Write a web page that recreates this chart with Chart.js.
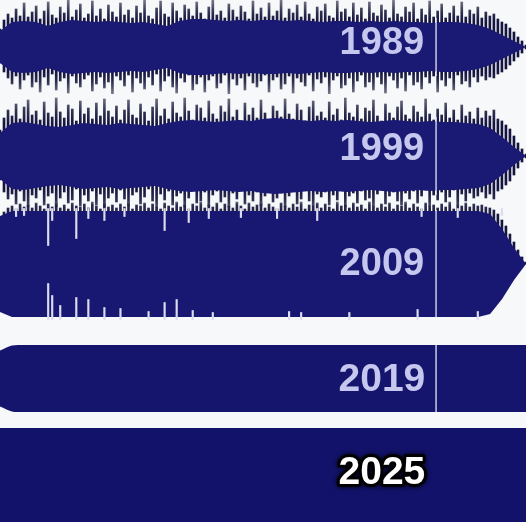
<!DOCTYPE html>
<html lang="en">
<head>
    <meta charset="UTF-8">
    <title>Loudness war</title>
    <script src="https://cdn.jsdelivr.net/npm/chart.js@4"></script>
    <style>
        html, body { margin: 0; padding: 0; background: #f7f8f9; }
        #wrap { position: relative; width: 526px; height: 522px; overflow: hidden; background: #f7f8f9; }
        #wrap canvas { position: absolute; left: 0; }
    </style>
</head>
<body>
    <div id="wrap"></div>
    <script>
        // one waveform per year, amplitudes (px-ish units)
        const years = ['1989', '1999', '2009', '2019', '2025'];

        // body envelope, 45 points along the track
        const body1989 = [16,25,26,25,21,25,27,26,25,26,25,24,25,23,21,26,28,28,27,26,27,26,27,27,26,27,26,25,26,26,25,26,25,26,25,25,24,25,25,24,22,18,12,6,0];
        const body1999 = [23,33,34,32,30,29,31,33,32,31,33,32,31,30,33,35,36,35,34,35,36,35,37,38,37,36,35,36,35,36,35,34,35,36,35,34,35,34,34,33,32,28,19,9,0];
        const body2009 = [48,53,53,53,53,53,53,53,53,53,53,53,53,53,53,53,53,53,53,53,53,53,53,53,53,53,53,53,53,53,53,53,53,53,53,53,53,53,53,53,53,50,35,16,0];
        const body2019 = [28,33,34,34,34,34,34,34,34,34,34,34,34,34,34,34,34,34,34,34,34,34,34,34,34,34,34,34,34,34,34,34,34,34,34,34,34,34,34,34,34,34,34,34,34];
        const body2025 = [47,47,47,47,47,47,47,47,47,47,47,47,47,47,47,47,47,47,47,47,47,47,47,47,47,47,47,47,47,47,47,47,47,47,47,47,47,47,47,47,47,47,47,47,47];

        // peak spikes, 132 samples along the track
        const up1989 = [18,27,33,29,38,31,44,30,35,41, 28,36,45,32,29,40,34,47,30,37, 43,29,33,46,31,38,28,42,35,30,
            44,32,37,29,41,34,47,31,28,39, 46,33,30,44,36,29,42,38,31,45, 34,28,40,47,32,36,29,43,37,30,
            41,35,28,46,33,39,30,44,31,36, 47,29,38,34,42,30,45,33,28,40, 36,43,31,29,46,35,38,30,44,32,
            39,28,45,34,31,42,37,29,47,33, 30,40,35,44,28,38,32,46,30,36, 43,29,34,41,31,45,30,37,33,40,
            29,35,31,33,28,25,23,19,15,10,6,2];
        const down1989 = [16,25,31,37,29,42,33,28,40,35, 45,30,38,27,43,34,31,46,29,36, 40,32,28,44,37,30,41,35,47,29,
            33,39,28,45,31,36,42,30,38,27, 44,34,29,40,46,31,35,28,43,37, 30,45,33,29,41,36,28,47,32,38,
            31,43,29,36,40,34,28,45,33,30, 42,37,29,46,31,35,39,28,44,32, 36,30,47,33,29,41,38,31,45,34,
            28,40,35,43,30,37,46,29,33,41, 31,44,28,38,35,42,30,36,29,45, 33,39,31,43,28,37,34,40,30,35,
            29,33,30,31,27,25,22,18,14,10,6,2];
        const up1999 = [26,38,46,40,52,37,49,56,41,45, 36,54,43,39,58,44,38,51,47,35, 55,42,48,37,53,40,57,45,39,50,
            36,46,56,41,38,52,44,35,49,57, 40,47,37,54,43,39,58,45,36,51, 48,38,55,42,37,50,44,57,39,46,
            35,53,41,48,38,56,43,36,50,45, 39,57,42,37,52,46,35,49,55,40, 44,38,54,41,47,36,58,43,39,51,
            37,48,45,56,40,35,52,43,38,49, 55,41,37,50,44,39,57,42,36,47, 41,53,38,46,36,51,40,44,37,48,
            38,45,40,46,37,35,31,27,20,13,7,2];
        const down1999 = [24,36,43,38,48,35,45,51,39,42, 34,49,40,37,51,42,36,47,44,33, 50,39,45,35,49,38,51,42,37,46,
            34,43,50,39,36,48,41,33,45,51, 38,44,35,49,40,37,51,42,34,47, 45,36,50,39,35,46,41,51,37,43,
            33,48,39,45,36,50,40,34,46,42, 37,51,40,35,48,43,33,45,50,38, 41,36,49,39,44,34,51,40,37,47,
            35,44,42,50,38,33,48,40,36,45, 49,37,43,35,47,40,34,50,39,44, 36,46,41,34,49,38,45,37,42,40,
            36,42,38,43,35,33,29,25,19,12,6,2];
        const up2009 = [42,52,56,58,55,60,57,59,56,61, 58,55,60,57,62,56,59,55,61,58, 57,60,56,62,58,55,61,57,59,56,
            60,57,62,55,59,58,61,56,60,57, 55,61,58,56,62,57,59,55,60,58, 62,56,59,57,61,55,60,58,56,62,
            58,55,61,57,59,62,56,60,57,55, 61,58,56,60,57,62,55,59,58,61, 56,60,57,55,62,58,59,56,61,57,
            59,55,62,58,56,60,57,61,55,59, 58,62,56,60,57,55,61,58,59,56, 60,57,62,55,59,58,61,57,60,58,
            59,57,56,54,50,44,38,30,22,14,7,2];

        // clipped dips in 2009 (depth into the body), 132 samples
        const dipTop2009 = [0,0,0,0,6,0,5,0,0,0,0,0, 35,10,0,0,0,0,0,28,0,0,8,0, 0,0,10,0,0,0,0,6,0,0,0,0,
            0,0,0,0,0,20,0,0,0,0,0,12, 0,0,0,0,8,0,0,0,0,0,0,0, 7,0,0,0,0,0,0,0,0,8,0,0,
            0,0,0,0,0,0,0,10,0,0,0,0, 0,0,0,0,0,0,0,0,0,0,0,0, 0,0,0,0,0,0,0,0,0,6,0,0,
            0,0,0,0,0,0,7,0,0,0,0,0, 0,0,0,0,0,5,0,0,0,0,0,0];
        const dipBottom2009 = [0,0,0,0,0,0,0,0,0,0,0,0, 34,22,0,12,0,0,0,20,0,0,18,0, 0,0,10,0,0,0,9,0,0,0,0,0,
            0,6,0,0,0,15,0,0,18,0,0,0, 7,0,0,0,0,5,0,0,0,0,0,0, 0,0,0,0,0,0,0,0,0,0,0,0,
            6,0,0,5,0,0,0,0,0,0,0,0, 0,0,0,5,0,0,0,0,0,0,0,0, 0,0,0,0,0,0,0,0,8,0,0,0,
            0,0,0,0,0,0,0,0,0,0,0,6, 0,0,0,0,0,0,0,0,0,0,0,0];

        const cursorAt = 0.829;   // white playhead line, fraction of track
        const labelAt = 0.726;    // year label centre, fraction of track

        const panels = [
            { body: body1989, up: up1989, down: down1989, top: 0,   height: 94,  range: 47,   labelDy: -3, color: '#1a1a74', smooth: false },
            { body: body1999, up: up1999, down: down1999, top: 96,  height: 120, range: 60,   labelDy: -6, color: '#1a1a74', smooth: false },
            { body: body2009, up: up2009, down: null,     top: 201, height: 126, range: 63,   labelDy: 1,  color: '#181872', smooth: false },
            { body: body2019, up: null,   down: null,     top: 345, height: 67,  range: 33.5, labelDy: 2,  color: '#15156e', smooth: true },
            { body: body2025, up: null,   down: null,     top: 428, height: 94,  range: 47,   labelDy: -2, color: '#12126b', smooth: false }
        ];

        const wrap = document.getElementById('wrap');
        const track = arr => arr.map((v, k) => k / (arr.length - 1));

        function spikeGradient(chart, edge) {
            const a = chart.chartArea;
            if (!a) return '#1c1c55';
            const g = chart.ctx.createLinearGradient(0, a.top, 0, a.bottom);
            g.addColorStop(0, 'rgba(105,105,125,0.9)');
            g.addColorStop(edge, 'rgba(35,35,70,0.95)');
            g.addColorStop(edge + 0.1, '#141440');
            g.addColorStop(0.9 - edge, '#141440');
            g.addColorStop(1 - edge, 'rgba(35,35,70,0.95)');
            g.addColorStop(1, 'rgba(105,105,125,0.9)');
            return g;
        }

        const yearPlugin = {
            id: 'yearLabel',
            afterDatasetsDraw(chart, args, opts) {
                const c = chart.ctx;
                const x = chart.scales.x.getPixelForValue(labelAt);
                const y = chart.scales.y.getPixelForValue(0) + opts.dy;
                c.save();
                if (opts.cursor) {
                    const p = opts.panel;
                    const top = chart.scales.y.getPixelForValue(Math.max(...p.body) + 1);
                    const bot = chart.scales.y.getPixelForValue(-Math.max(...p.body) - 1);
                    const cx = chart.scales.x.getPixelForValue(cursorAt);
                    c.fillStyle = 'rgba(235,236,248,0.9)';
                    c.fillRect(cx - 0.7, top, 1.4, bot - top);
                }
                c.font = 'bold ' + opts.size + 'px "Liberation Sans", Arial, sans-serif';
                c.textAlign = 'center';
                c.textBaseline = 'middle';
                if (opts.outline) {
                    c.lineJoin = 'round';
                    c.shadowColor = 'rgba(0,0,0,0.9)';
                    c.shadowBlur = 5;
                    c.strokeStyle = '#000';
                    c.lineWidth = 6;
                    c.strokeText(opts.text, x, y);
                    c.shadowBlur = 0;
                    c.fillStyle = '#ffffff';
                } else {
                    c.fillStyle = '#c6c7ee';
                }
                c.fillText(opts.text, x, y);
                c.restore();
            }
        };

        panels.forEach((p, i) => {
            const canvas = document.createElement('canvas');
            canvas.width = 526;
            canvas.height = p.height;
            canvas.style.top = p.top + 'px';
            wrap.appendChild(canvas);

            const bx = track(p.body);
            const lineOpts = { borderWidth: 0, borderColor: 'rgba(0,0,0,0)', pointRadius: 0,
                               cubicInterpolationMode: p.smooth ? 'monotone' : 'default', tension: 0 };
            const datasets = [
                Object.assign({ type: 'line', data: p.body.map((v, k) => ({ x: bx[k], y: v })), fill: '+1',
                  backgroundColor: p.color }, lineOpts),
                Object.assign({ type: 'line', data: p.body.map((v, k) => ({ x: bx[k], y: -v })), fill: false }, lineOpts)
            ];
            if (p.up) {
                const sx = track(p.up);
                const edge = p.down ? 0.13 : 0.03;
                datasets.push({
                    type: 'bar',
                    data: p.up.map((v, k) => ({ x: sx[k], y: [p.down ? -p.down[k] : 0, v] })),
                    backgroundColor: ctx => spikeGradient(ctx.chart, edge),
                    barThickness: 2, grouped: false
                });
            }
            if (i === 2) {
                const dx = track(dipTop2009);
                const edge = 53.5;
                const dips = [];
                dipTop2009.forEach((d, k) => { if (d) dips.push({ x: dx[k], y: [edge - d, edge + 2] }); });
                dipBottom2009.forEach((d, k) => { if (d) dips.push({ x: dx[k], y: [-edge - 2, -edge + d] }); });
                datasets.push({ type: 'bar', data: dips, backgroundColor: '#dcdcf0',
                    barThickness: 1.5, grouped: false, order: -1 });
            }

            new Chart(canvas, {
                type: 'bar',
                data: { datasets },
                options: {
                    responsive: false,
                    animation: false,
                    events: [],
                    layout: { padding: 0 },
                    scales: {
                        x: { type: 'linear', min: 0, max: 1, offset: false, display: false },
                        y: { min: -p.range, max: p.range, display: false }
                    },
                    plugins: {
                        legend: { display: false },
                        tooltip: { enabled: false },
                        yearLabel: { text: years[i], dy: p.labelDy, size: i >= 3 ? 39 : 38,
                                     outline: i === 4, cursor: i < 4, panel: p }
                    }
                },
                plugins: [yearPlugin]
            });
        });
    </script>
</body>
</html>
